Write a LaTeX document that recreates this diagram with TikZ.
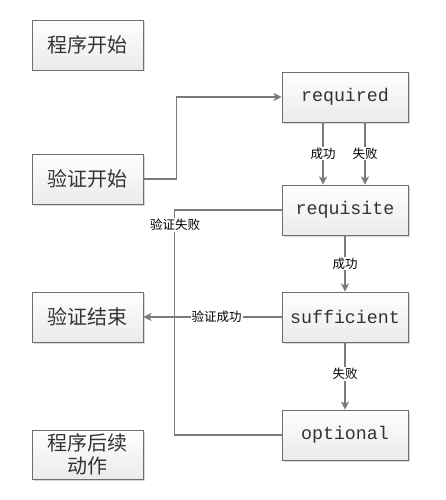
\documentclass[tikz,border=0pt]{standalone}
\usepackage{fontspec}
\newfontfamily\cjk{Noto Sans CJK SC}
\setmonofont{Liberation Mono}
\usetikzlibrary{arrows.meta,shadows}
\definecolor{linegray}{HTML}{7A7A7A}
\definecolor{boxborder}{HTML}{6E6E6E}
\definecolor{txt}{HTML}{333333}
\tikzset{
  box/.style={draw=boxborder, line width=0.9pt, top color=white, bottom color=black!8,
    minimum height=50pt, inner sep=0pt, text=txt,
    drop shadow={shadow xshift=1.5pt, shadow yshift=-1.5pt, opacity=0.15, fill=black}},
  cnbox/.style={box, minimum width=111pt, font=\cjk\fontsize{20}{23}\selectfont},
  enbox/.style={box, minimum width=126pt, font=\ttfamily\fontsize{18.3}{20}\selectfont},
  conn/.style={draw=linegray, line width=1.8pt},
  arr/.style={conn, -{Stealth[length=8pt,width=8pt,inset=2pt]}},
  lbl/.style={fill=white, inner sep=1pt, text=black, font=\cjk\fontsize{12.5}{14}\selectfont}
}
\begin{document}
\begin{tikzpicture}[x=1pt,y=-1pt]
\useasboundingbox (0,0) rectangle (445,500);
\node[cnbox] (start) at (87.5,45) {程序开始};
\node[cnbox] (vstart) at (87.5,179) {验证开始};
\node[cnbox] (vend) at (87.5,317) {验证结束};
\node[cnbox, minimum height=49pt, align=center] (after) at (87.5,454.5) {程序后续\\动作};
\node[enbox] (req) at (345,97) {required};
\node[enbox] (requisite) at (345,210) {requisite};
\node[enbox] (suff) at (345,317) {sufficient};
\node[enbox] (opt) at (345,435) {optional};

\draw[arr] (vstart.east) -- ++(33,0) |- (req.west);
\draw[arr] ([xshift=-22pt]req.south) -- node[lbl]{成功} ([xshift=-22pt]requisite.north);
\draw[arr] ([xshift=20pt]req.south) -- node[lbl]{失败} ([xshift=20pt]requisite.north);
\draw[arr] (requisite.south) -- node[lbl]{成功} (suff.north);
\draw[arr] (suff.south) -- node[lbl, pos=0.47]{失败} (opt.north);
\draw[conn] (requisite.west) -- ++(-107,0) coordinate (lc) -- (lc |- opt.west) -- (opt.west);
\draw[arr] (suff.west) -- node[lbl, pos=0.47]{验证成功} (vend.east);
\node[lbl] (fail) at (175,225) {验证失败};
\end{tikzpicture}
\end{document}
